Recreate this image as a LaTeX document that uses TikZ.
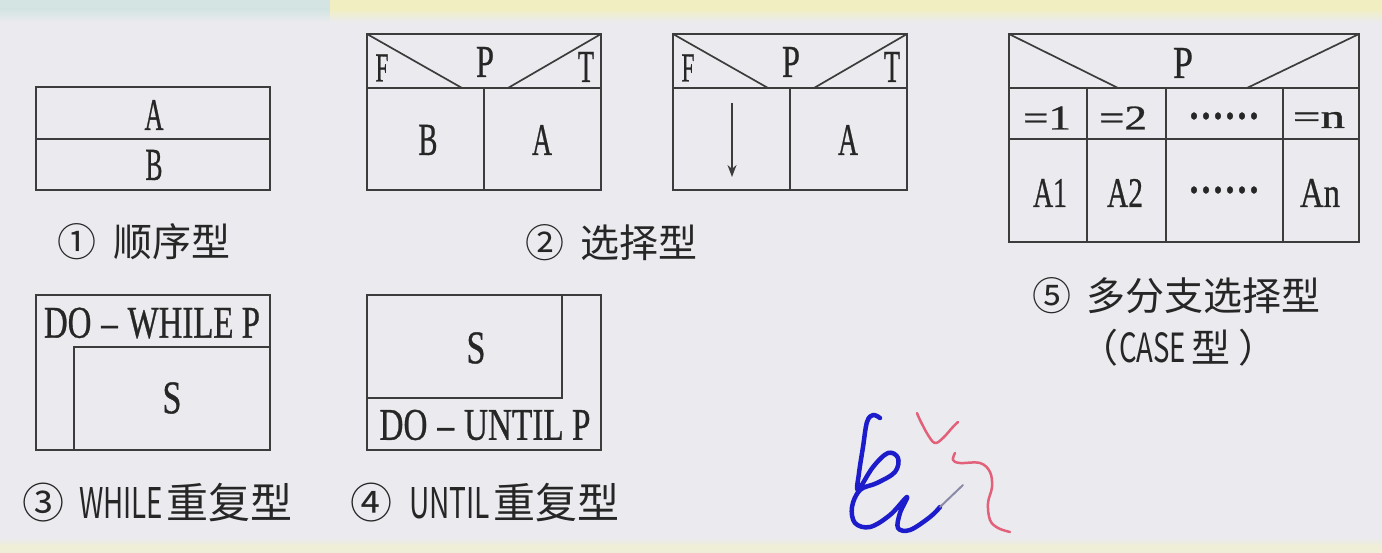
\documentclass[tikz,border=0pt]{standalone}
\usepackage{fontspec}
\usepackage{graphicx}
\usetikzlibrary{arrows.meta}
\setmainfont[FakeBold=0.8]{Liberation Serif}
\newfontfamily\cjk{Noto Sans CJK SC}
\definecolor{bg}{HTML}{EBEBEF}
\definecolor{ln}{HTML}{3C3C3C}
\definecolor{txt}{HTML}{262626}
\definecolor{bandc}{HTML}{D3E4E2}
\definecolor{bandy}{HTML}{F1EFC2}
\definecolor{bandb}{HTML}{EFEED6}
\definecolor{inkblue}{HTML}{1C1CCC}
\definecolor{inkred}{HTML}{E2607A}
\definecolor{inkgray}{HTML}{8A8AA8}
\newcommand\fitt[3]{\resizebox{#1pt}{#2pt}{#3}}
\begin{document}
\begin{tikzpicture}[x=1pt,y=-1pt,
  box/.style={draw=ln,line width=1.7pt},
  lbl/.style={inner sep=0pt,text=txt},
  captxt/.style={inner sep=0pt,text=txt,anchor=west,font=\cjk\fontsize{39}{39}\selectfont}]
\fill[bg] (0,0) rectangle (1382,553);
\useasboundingbox (0,0) rectangle (1382,553);
% top and bottom bands
\fill[bandc] (0,0) rectangle (330,9);
\fill[bandy] (330,0) rectangle (1382,9);
\shade[top color=bandc,bottom color=bg] (0,9) rectangle (330,22);
\shade[top color=bandy,bottom color=bg] (330,9) rectangle (1382,22);
\shade[top color=bg,bottom color=bandb] (0,538) rectangle (1382,546);
\fill[bandb] (0,546) rectangle (1382,553);

% 1 sequence
\draw[box] (36,87) rectangle (270,190);
\draw[box] (36,139) -- (270,139);
\node[lbl] (s1a) at (154,115) {\fitt{19}{30}{A}};
\node[lbl] (s1b) at (154,165) {\fitt{17}{30}{B}};
\node[captxt] (c1) at (57,242) {①\hspace{17pt}顺序型};

% 2 selection
\draw[box] (367,34) rectangle (601,190);
\draw[box] (367,88) -- (601,88);
\draw[box] (484,88) -- (484,190);
\draw[box] (367,34) -- (462,88);
\draw[box] (508,88) -- (601,34);
\node[lbl] (s2f) at (382,68) {\fitt{13}{27}{F}};
\node[lbl] (s2p) at (485,62) {\fitt{18}{30}{P}};
\node[lbl] (s2t) at (586,67) {\fitt{16}{30}{T}};
\node[lbl] (s2b) at (428,140) {\fitt{19}{30}{B}};
\node[lbl] (s2a) at (542,140) {\fitt{20}{30}{A}};

\draw[box] (673,34) rectangle (907,190);
\draw[box] (673,88) -- (907,88);
\draw[box] (790,88) -- (790,190);
\draw[box] (673,34) -- (768,88);
\draw[box] (814,88) -- (907,34);
\node[lbl] (s3f) at (688,68) {\fitt{13}{27}{F}};
\node[lbl] (s3p) at (791,62) {\fitt{18}{30}{P}};
\node[lbl] (s3t) at (892,67) {\fitt{16}{30}{T}};
\node[lbl] (s3a) at (848,140) {\fitt{20}{30}{A}};
\coordinate (ar1) at (732,103);
\coordinate (ar2) at (732,177);
\draw[draw=ln,line width=1.5pt,-{Stealth[length=12pt,width=9pt]}] (ar1) -- (ar2);
\node[captxt] (c2) at (525,243) {②\hspace{16pt}选择型};

% 3 while
\draw[box] (36,295) rectangle (270,450);
\draw[box] (74,450) -- (74,347) -- (270,347);
\node[lbl] (w1) at (152,323) {\fitt{216}{30}{DO\kern3pt–\kern3pt WHILE P}};
\node[lbl] (w2) at (172,398) {\fitt{19}{31}{S}};
\node[captxt,font=\cjk\fontsize{42}{42}\selectfont] (c3) at (22,503) {③\hspace{15pt}\fitt{84}{31}{WHILE}\hspace{3pt}重复型};

% 4 until
\draw[box] (367,295) rectangle (601,450);
\draw[box] (367,398) -- (562,398) -- (562,295);
\node[lbl] (u1) at (476,348) {\fitt{19}{31}{S}};
\node[lbl] (u2) at (485,425) {\fitt{211}{30}{DO\kern3pt–\kern3pt UNTIL P}};
\node[captxt,font=\cjk\fontsize{42}{42}\selectfont] (c4) at (350,503) {④\hspace{17pt}\fitt{81}{31}{UNTIL}\hspace{3pt}重复型};

% 5 case
\draw[box] (1009,34) rectangle (1359,242);
\draw[box] (1009,88) -- (1359,88);
\draw[box] (1009,139) -- (1359,139);
\draw[box] (1087,88) -- (1087,242);
\draw[box] (1166,88) -- (1166,242);
\draw[box] (1283,88) -- (1283,242);
\draw[box] (1009,34) -- (1118,88);
\draw[box] (1247,88) -- (1359,34);
\node[lbl] (k0) at (1183,63) {\fitt{20}{30}{P}};
\node[lbl] (k1) at (1047,118) {\fitt{48}{23}{=1}};
\node[lbl] (k2) at (1123,118) {\fitt{48}{23}{=2}};
\node[lbl] (k3) at (1224,116) {\fitt{72}{6}{......}};
\node[lbl] (k4) at (1319,120) {\fitt{52}{16}{=n}};
\node[lbl] (m1) at (1050,193) {\fitt{34}{28}{A1}};
\node[lbl] (m2) at (1125,193) {\fitt{36}{28}{A2}};
\node[lbl] (m3) at (1224,190) {\fitt{72}{6}{......}};
\node[lbl] (m4) at (1320,193) {\fitt{40}{28}{An}};
\node[captxt] (c5) at (1032,296) {⑤\hspace{15pt}多分支选择型};
\node[captxt] (c6) at (1079,348) {（\hspace{1pt}\fitt{67}{30}{CASE}\hspace{5pt}型\hspace{8pt}）};

% handwriting
\draw[inkblue,line width=4.5pt,line cap=round,line join=round] plot[smooth,tension=0.6] coordinates {
(880,418) (873,415) (867,422) (863,447) (859,473) (858,490) (873,467) (888,453) (898,458) (895,472) (877,483) (860,490) (852,507) (855,523) (870,527) (890,515) (907,497) (900,513) (898,528) (910,530) (930,517) (940,507)};
\draw[inkgray,line width=2pt,line cap=round] (940,507) -- (963,485);
\draw[inkred,line width=2.5pt,line cap=round,line join=round] plot[smooth,tension=0.6] coordinates {
(917,413) (920,420) (928,435) (935,443) (943,438) (952,428) (958,422)};
\draw[inkred,line width=2.5pt,line cap=round,line join=round] plot[smooth,tension=0.6] coordinates {
(955,453) (953,460) (960,463) (980,463) (990,472) (992,487) (988,503) (990,520) (998,528) (1010,532)};
\end{tikzpicture}
\end{document}
